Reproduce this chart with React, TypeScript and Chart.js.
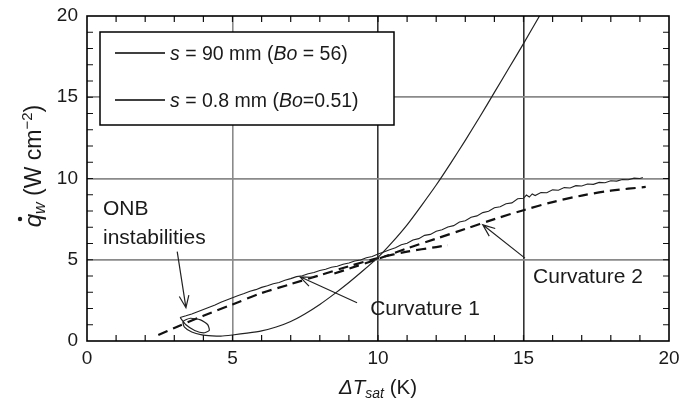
import React, { useEffect, useRef } from "react";
import { Chart, registerables } from "chart.js";

Chart.register(...registerables);

// ---------- data ----------
// s = 90 mm (noisy, smaller slope)
const s90X = [3.2, 3.4, 3.6, 3.8, 4.0, 4.2, 4.4, 4.6, 4.8, 5.0, 5.2, 5.4, 5.6, 5.8, 6.0, 6.2, 6.4, 6.6, 6.8, 7.0, 7.2, 7.4, 7.6, 7.8, 8.0, 8.2, 8.4, 8.6, 8.8, 9.0, 9.2, 9.4, 9.6, 9.8, 10.0, 10.2, 10.4, 10.6, 10.8, 11.0, 11.2, 11.4, 11.6, 11.8, 12.0, 12.2, 12.4, 12.6, 12.8, 13.0, 13.2, 13.4, 13.6, 13.8, 14.0, 14.2, 14.4, 14.6, 14.8, 15.0, 15.1, 15.2, 15.3, 15.4, 15.6, 15.8, 16.0, 16.2, 16.4, 16.6, 16.8, 17.0, 17.2, 17.4, 17.6, 17.8, 18.0, 18.2, 18.4, 18.6, 18.8, 19.0, 19.1];
const s90Y = [1.45, 1.55, 1.66, 1.8, 1.94, 2.08, 2.22, 2.38, 2.52, 2.66, 2.8, 2.92, 3.06, 3.16, 3.3, 3.4, 3.52, 3.6, 3.74, 3.84, 3.96, 4.02, 4.14, 4.22, 4.34, 4.42, 4.54, 4.6, 4.72, 4.8, 4.92, 4.98, 5.12, 5.2, 5.35, 5.48, 5.62, 5.74, 5.92, 6.02, 6.22, 6.3, 6.5, 6.56, 6.76, 6.84, 7.02, 7.1, 7.32, 7.4, 7.62, 7.7, 7.9, 7.98, 8.2, 8.26, 8.45, 8.5, 8.75, 8.78, 8.98, 8.86, 9.05, 8.95, 9.14, 9.12, 9.3, 9.28, 9.44, 9.42, 9.56, 9.54, 9.66, 9.64, 9.76, 9.74, 9.86, 9.84, 9.94, 9.92, 10.02, 10.0, 10.06];

// s = 0.8 mm (steep, with ONB loop)
const s08X = [3.2, 3.4, 3.7, 4.0, 4.2, 4.15, 3.9, 3.55, 3.3, 3.35, 3.6, 3.95, 4.3, 4.6, 5.0, 5.5, 6.0, 6.5, 7.0, 7.5, 8.0, 8.5, 9.0, 9.5, 10.0, 10.5, 11.0, 11.5, 12.0, 12.5, 13.0, 13.5, 14.0, 14.5, 15.0, 15.55];
const s08Y = [1.45, 1.0, 0.65, 0.5, 0.65, 1.0, 1.3, 1.4, 1.2, 0.85, 0.55, 0.38, 0.32, 0.3, 0.37, 0.48, 0.62, 0.86, 1.2, 1.68, 2.25, 2.9, 3.6, 4.35, 5.15, 6.1, 7.15, 8.35, 9.6, 10.95, 12.35, 13.8, 15.3, 16.8, 18.3, 20.0];

// Curvature 1 fit (dashed, short)
const curv1X = [2.45, 3, 4, 5, 6, 7, 8, 9, 10, 11, 12, 12.4];
const curv1Y = [0.37, 0.8, 1.55, 2.25, 2.95, 3.5, 4.05, 4.6, 5.1, 5.5, 5.78, 5.9];

// Curvature 2 fit (dashed, long)
const curv2X = [8.5, 9, 10, 11, 12, 13, 14, 15, 16, 17, 18, 19.2];
const curv2Y = [4.15, 4.45, 5.05, 5.7, 6.3, 6.9, 7.5, 8.05, 8.55, 8.95, 9.25, 9.48];

// axis ticks
const xTickValues = [0, 5, 10, 15, 20];
const yTickValues = [0, 5, 10, 15, 20];

// legend
const legendLabels = [
  [["s", true], [" = 90 mm (", false], ["Bo", true], [" = 56)", false]],
  [["s", true], [" = 0.8 mm (", false], ["Bo", true], ["=0.51)", false]],
] as [string, boolean][][];

// annotations (data coordinates)
const noteText = ["ONB", "instabilities", "Curvature 1", "Curvature 2"];
const noteX = [0.55, 0.55, 9.73, 15.33];
const noteY = [8.1, 6.35, 1.98, 3.95];

const arrowStartX = [3.1, 9.28, 15.05];
const arrowStartY = [5.5, 2.35, 5.1];
const arrowEndX = [3.4, 7.32, 13.6];
const arrowEndY = [2.05, 3.95, 7.15];

const FONT = '"Liberation Sans", Arial, Helvetica, sans-serif';
const TEXT = "#1a1a1a";

const toPts = (xs: number[], ys: number[]) => xs.map((x, i) => ({ x, y: ys[i] }));

type Seg = { t: string; italic?: boolean; size?: number; dy?: number };

function drawRich(ctx: CanvasRenderingContext2D, segs: Seg[], x: number, y: number, base: number, align: "left" | "center") {
  const fontOf = (s: Seg) => `${s.italic ? "italic " : ""}${s.size ?? base}px ${FONT}`;
  const widths = segs.map((s) => {
    ctx.font = fontOf(s);
    return ctx.measureText(s.t).width;
  });
  const total = widths.reduce((a, b) => a + b, 0);
  let cx = align === "center" ? x - total / 2 : x;
  const starts: number[] = [];
  ctx.textAlign = "left";
  ctx.textBaseline = "alphabetic";
  segs.forEach((s, i) => {
    ctx.font = fontOf(s);
    starts.push(cx);
    ctx.fillText(s.t, cx, y + (s.dy ?? 0));
    cx += widths[i];
  });
  return { starts, widths };
}

const decorPlugin = {
  id: "decor",
  afterDatasetsDraw(chart: any) {
    const ctx: CanvasRenderingContext2D = chart.ctx;
    const { left, right, top, bottom } = chart.chartArea;
    const xs = chart.scales.x;
    const ys = chart.scales.y;
    ctx.save();

    // minor ticks (inward on all four sides)
    ctx.strokeStyle = "#111";
    ctx.lineWidth = 1.2;
    ctx.beginPath();
    for (let v = 1; v < 20; v++) {
      const px = xs.getPixelForValue(v);
      ctx.moveTo(px, bottom);
      ctx.lineTo(px, bottom - 6);
      ctx.moveTo(px, top);
      ctx.lineTo(px, top + 6);
      const py = ys.getPixelForValue(v);
      ctx.moveTo(left, py);
      ctx.lineTo(left + 6, py);
      ctx.moveTo(right, py);
      ctx.lineTo(right - 6, py);
    }
    ctx.stroke();

    // frame
    ctx.lineWidth = 1.6;
    ctx.strokeStyle = "#000";
    ctx.strokeRect(left, top, right - left, bottom - top);

    // legend box
    const bx = left + 13;
    const by = top + 16;
    const bw = 294;
    const bh = 93;
    ctx.fillStyle = "#fff";
    ctx.fillRect(bx, by, bw, bh);
    ctx.lineWidth = 1.5;
    ctx.strokeRect(bx, by, bw, bh);
    legendLabels.forEach((segs, i) => {
      const ly = by + 21 + i * 47;
      ctx.beginPath();
      ctx.lineWidth = 1.3;
      ctx.moveTo(bx + 15, ly);
      ctx.lineTo(bx + 65, ly);
      ctx.stroke();
      ctx.fillStyle = TEXT;
      drawRich(
        ctx,
        segs.map(([t, it]) => ({ t, italic: it })),
        bx + 70,
        ly + 7,
        19.5,
        "left"
      );
    });

    // annotations
    ctx.fillStyle = TEXT;
    ctx.font = `21px ${FONT}`;
    ctx.textAlign = "left";
    ctx.textBaseline = "middle";
    noteText.forEach((t, i) => {
      ctx.fillText(t, xs.getPixelForValue(noteX[i]), ys.getPixelForValue(noteY[i]));
    });

    // arrows
    ctx.strokeStyle = "#222";
    ctx.lineWidth = 1.2;
    arrowStartX.forEach((_, i) => {
      const x0 = xs.getPixelForValue(arrowStartX[i]);
      const y0 = ys.getPixelForValue(arrowStartY[i]);
      const x1 = xs.getPixelForValue(arrowEndX[i]);
      const y1 = ys.getPixelForValue(arrowEndY[i]);
      const a = Math.atan2(y1 - y0, x1 - x0);
      const L = 13;
      const w = 0.38;
      ctx.beginPath();
      ctx.moveTo(x0, y0);
      ctx.lineTo(x1, y1);
      ctx.moveTo(x1 - L * Math.cos(a - w), y1 - L * Math.sin(a - w));
      ctx.lineTo(x1, y1);
      ctx.lineTo(x1 - L * Math.cos(a + w), y1 - L * Math.sin(a + w));
      ctx.stroke();
    });

    // x-axis title
    ctx.fillStyle = TEXT;
    drawRich(
      ctx,
      [
        { t: "ΔT", italic: true },
        { t: "sat", italic: true, size: 14, dy: 4 },
        { t: " (K)" },
      ],
      (left + right) / 2,
      bottom + 53,
      20.5,
      "center"
    );

    // y-axis title (rotated)
    ctx.save();
    ctx.translate(left - 54, top + 150);
    ctx.rotate(-Math.PI / 2);
    const r = drawRich(
      ctx,
      [
        { t: "q", italic: true, size: 24 },
        { t: "w", italic: true, size: 16, dy: 4 },
        { t: " (W cm" },
        { t: "−2", size: 15, dy: -9 },
        { t: ")" },
      ],
      0,
      8,
      23,
      "center"
    );
    ctx.beginPath();
    ctx.arc(r.starts[0] + r.widths[0] * 0.62, 8 - 21, 2.2, 0, Math.PI * 2);
    ctx.fill();
    ctx.restore();

    ctx.restore();
  },
};

export default function App() {
  const ref = useRef<HTMLCanvasElement | null>(null);

  useEffect(() => {
    document.body.style.margin = "0";
    if (!ref.current) return;
    const gridX = (c: any) => {
      const v = c.tick?.value;
      if (v === 0 || v === 20) return "rgba(0,0,0,0)";
      if (v === 5) return "#8a8a8a";
      return "#333";
    };
    const gridY = (c: any) => {
      const v = c.tick?.value;
      if (v === 0 || v === 20) return "rgba(0,0,0,0)";
      return "#8a8a8a";
    };
    const chart = new Chart(ref.current, {
      type: "scatter",
      data: {
        datasets: [
          {
            label: "s = 90 mm",
            data: toPts(s90X, s90Y),
            showLine: true,
            borderColor: "#222",
            borderWidth: 1.1,
            pointRadius: 0,
            tension: 0,
          },
          {
            label: "s = 0.8 mm",
            data: toPts(s08X, s08Y),
            showLine: true,
            borderColor: "#222",
            borderWidth: 1.2,
            pointRadius: 0,
            tension: 0.2,
          },
          {
            label: "Curvature 1",
            data: toPts(curv1X, curv1Y),
            showLine: true,
            borderColor: "#111",
            borderWidth: 2.2,
            borderDash: [10, 6],
            pointRadius: 0,
            tension: 0.3,
          },
          {
            label: "Curvature 2",
            data: toPts(curv2X, curv2Y),
            showLine: true,
            borderColor: "#111",
            borderWidth: 2.2,
            borderDash: [10, 6],
            pointRadius: 0,
            tension: 0.3,
          },
        ],
      },
      options: {
        animation: false,
        responsive: false,
        devicePixelRatio: 1,
        layout: { padding: { top: 16, right: 11, left: 0, bottom: 0 } },
        plugins: { legend: { display: false }, tooltip: { enabled: false } },
        scales: {
          x: {
            type: "linear",
            min: 0,
            max: 20,
            afterBuildTicks: (s: any) => {
              s.ticks = xTickValues.map((value) => ({ value }));
            },
            afterFit: (s: any) => {
              s.height = 66;
              s.paddingLeft = 0;
              s.paddingRight = 0;
            },
            ticks: {
              color: TEXT,
              font: { family: FONT, size: 19 },
              padding: 6,
              maxRotation: 0,
            },
            grid: { color: gridX, lineWidth: 1.6, drawTicks: false },
            border: { display: false },
          },
          y: {
            type: "linear",
            min: 0,
            max: 20,
            afterBuildTicks: (s: any) => {
              s.ticks = yTickValues.map((value) => ({ value }));
            },
            afterFit: (s: any) => {
              s.width = 87;
              s.paddingTop = 0;
              s.paddingBottom = 0;
            },
            ticks: {
              color: TEXT,
              font: { family: FONT, size: 19 },
              padding: 9,
            },
            grid: { color: gridY, lineWidth: 1.8, drawTicks: false },
            border: { display: false },
          },
        },
      },
      plugins: [decorPlugin],
    });
    return () => chart.destroy();
  }, []);

  return (
    <div style={{ width: 680, height: 407, background: "#fff" }}>
      <canvas ref={ref} width={680} height={407} style={{ display: "block" }} />
    </div>
  );
}
